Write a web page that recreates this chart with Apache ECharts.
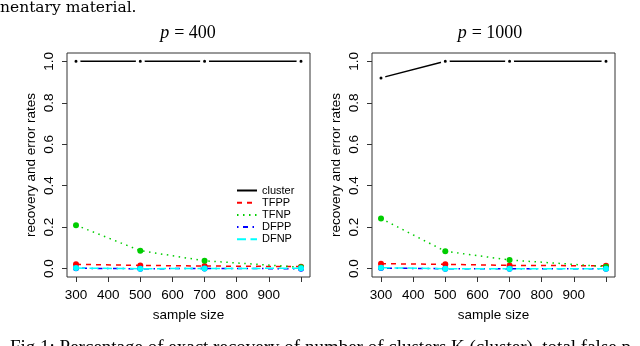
<!DOCTYPE html>
<html>
<head>
<meta charset="utf-8">
<script src="https://cdn.jsdelivr.net/npm/echarts@6/dist/echarts.min.js"></script>
<style>
  html, body { margin: 0; padding: 0; background: #fff; }
  #chart { width: 640px; height: 346px; }
</style>
</head>
<body>
<div id="chart"></div>
<script>
  // sample sizes and rates
  var sampleSize = [300, 500, 700, 1000];
  var xTicks = [300, 400, 500, 600, 700, 800, 900, 1000];
  var xLabels = [300, 400, 500, 600, 700, 800, 900];
  var yTicks = [0, 0.2, 0.4, 0.6, 0.8, 1.0];
  var seriesNames = ['cluster', 'TFPP', 'TFNP', 'DFPP', 'DFNP'];

  // p = 400
  var cluster400 = [1, 1, 1, 1];
  var tfpp400 = [0.021, 0.016, 0.013, 0.01];
  var tfnp400 = [0.21, 0.087, 0.038, 0.007];
  var dfpp400 = [0.002, 0, 0.001, 0];
  var dfnp400 = [0.003, 0, 0.001, 0.002];

  // p = 1000
  var cluster1000 = [0.92, 1, 1, 1];
  var tfpp1000 = [0.024, 0.021, 0.016, 0.014];
  var tfnp1000 = [0.242, 0.084, 0.042, 0.01];
  var dfpp1000 = [0.003, 0, 0, 0];
  var dfnp1000 = [0.005, 0, 0, 0];

  var colors = ['#000000', '#ff0000', '#00cd00', '#0000ff', '#00ffff'];
  var dashes = ['solid', [5, 5], [1.5, 4.5], [1.5, 4.5, 5, 4.5], [9, 4.5]];
  var axisFont = 'Liberation Sans';

  var chart = echarts.init(document.getElementById('chart'));

  function pairs (vals) {
    return sampleSize.map(function (s, i) { return [s, vals[i]]; });
  }

  function makeSeries (idx, lists) {
    return lists.map(function (vals, k) {
      return {
        name: seriesNames[k],
        type: 'line',
        xAxisIndex: idx,
        yAxisIndex: idx,
        data: pairs(vals),
        symbol: 'circle',
        symbolSize: 6,
        animation: false,
        lineStyle: { color: colors[k], width: 1.5, type: dashes[k] },
        itemStyle: {
          color: colors[k],
          // white ring gives the R type="b" gap around points
          borderColor: k === 0 ? '#fff' : colors[k],
          borderWidth: k === 0 ? 3 : 0
        }
      };
    });
  }

  function xAxis (idx) {
    return {
      gridIndex: idx,
      type: 'value',
      min: 272,
      max: 1028,
      name: 'sample size',
      nameLocation: 'middle',
      nameGap: 31,
      nameTextStyle: { color: '#000', fontFamily: axisFont, fontSize: 13.5 },
      axisLine: { show: false, onZero: false },
      splitLine: { show: false },
      axisTick: { show: true, inside: false, length: 5, customValues: xTicks, lineStyle: { color: '#333' } },
      axisLabel: { customValues: xLabels, margin: 11, color: '#000', fontFamily: axisFont, fontSize: 13.5 }
    };
  }

  function yAxis (idx) {
    return {
      gridIndex: idx,
      type: 'value',
      min: -0.04,
      max: 1.04,
      name: 'recovery and error rates',
      nameLocation: 'middle',
      nameRotate: 90,
      nameGap: 29,
      nameTextStyle: { color: '#000', fontFamily: axisFont, fontSize: 13.5 },
      axisLine: { show: false, onZero: false },
      splitLine: { show: false },
      axisTick: { show: true, inside: false, length: 5, customValues: yTicks, lineStyle: { color: '#333' } },
      axisLabel: {
        customValues: yTicks,
        rotate: 90,
        margin: 11,
        color: '#000',
        fontFamily: axisFont,
        fontSize: 13.5,
        formatter: function (v) { return v.toFixed(1); }
      }
    };
  }

  var titleRich = {
    i: { fontFamily: 'Liberation Serif', fontStyle: 'italic', fontWeight: 'normal', fontSize: 18, color: '#000' },
    n: { fontFamily: 'Liberation Serif', fontWeight: 'normal', fontSize: 18, color: '#000' }
  };

  chart.setOption({
    animation: false,
    title: [
      { text: '{i|p} {n|= 400}', left: 183, top: 19, textAlign: 'center', textStyle: { fontWeight: 'normal', rich: titleRich } },
      { text: '{i|p} {n|= 1000}', left: 485, top: 19, textAlign: 'center', textStyle: { fontWeight: 'normal', rich: titleRich } }
    ],
    legend: {
      data: seriesNames,
      orient: 'vertical',
      left: 231,
      top: 180,
      itemWidth: 20,
      itemHeight: 10,
      itemGap: 1.2,
      itemStyle: { opacity: 0 },
      textStyle: { color: '#000', fontFamily: axisFont, fontSize: 11 }
    },
    grid: [
      { left: 67, top: 53, width: 243, height: 224, show: true, borderColor: '#333', borderWidth: 1, backgroundColor: 'transparent' },
      { left: 372, top: 53, width: 243, height: 224, show: true, borderColor: '#333', borderWidth: 1, backgroundColor: 'transparent' }
    ],
    xAxis: [xAxis(0), xAxis(1)],
    yAxis: [yAxis(0), yAxis(1)],
    series: makeSeries(0, [cluster400, tfpp400, tfnp400, dfpp400, dfnp400])
      .concat(makeSeries(1, [cluster1000, tfpp1000, tfnp1000, dfpp1000, dfnp1000])),
    graphic: [
      {
        type: 'text', left: 0, top: 0,
        style: { text: 'nentary material.', font: '15.5px "DejaVu Serif"', fill: '#000' }
      },
      {
        type: 'text', left: 10, top: 339,
        style: { text: 'Fig 1: Percentage of exact recovery of number of clusters K (cluster), total false p', font: '19px "Liberation Serif"', fill: '#000' }
      }
    ]
  });
</script>
</body>
</html>
